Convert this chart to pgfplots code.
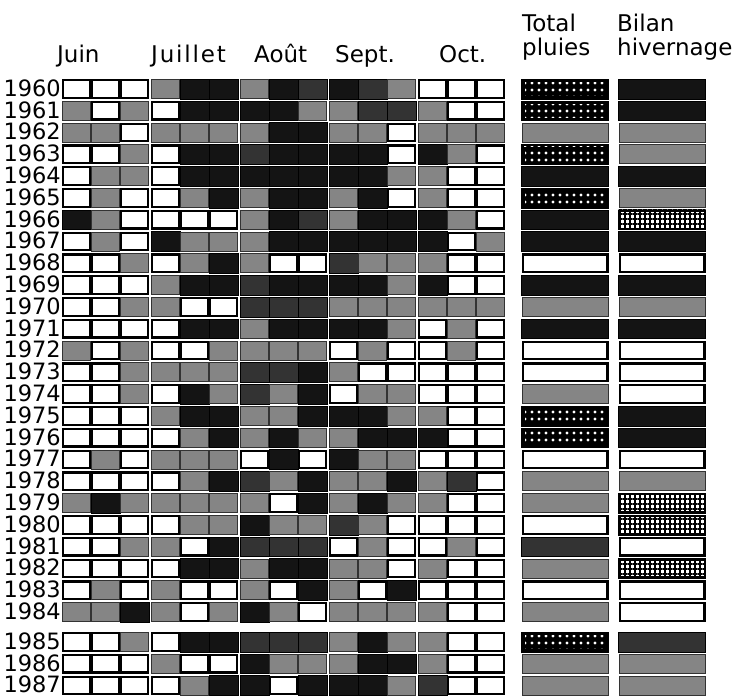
\documentclass[border=0pt]{standalone}
\usepackage{pgfplots}
\pgfplotsset{compat=1.18}
\usepackage{pgfplotstable}
\usepackage{fontspec}
\setmainfont{DejaVu Sans}
\usetikzlibrary{patterns.meta}

\definecolor{lev1}{gray}{0.52}
\definecolor{lev2}{gray}{0.20}
\definecolor{lev3}{gray}{0.08}

\pgfdeclareplotmark{nothing}{}

% level: 0 white, 1 light stipple, 2 dark stipple, 3 black, 4 dots on black, 5 honeycomb
\newcommand\drawcell[3]{%
  \pgfmathtruncatemacro\lv{#1}%
  \ifcase\lv\relax
    \path[fill=white,draw=black,line width=2.2bp] (-#2+1.1bp,-#3+1.1bp) rectangle (#2-1.1bp,#3-1.1bp);
  \or
    \path[fill=lev1,draw=black!80,line width=0.8bp] (-#2+0.4bp,-#3+0.4bp) rectangle (#2-0.4bp,#3-0.4bp);
  \or
    \path[fill=lev2] (-#2,-#3) rectangle (#2,#3);
  \or
    \path[fill=lev3] (-#2,-#3) rectangle (#2,#3);
  \or
    \path[fill=black] (-#2,-#3) rectangle (#2,#3);
    \path[pattern={Dots[distance=7bp,radius=1.6bp]},pattern color=white] (-#2+2.5bp,-#3+2.5bp) rectangle (#2-2.5bp,#3-2.5bp);
  \or
    \path[fill=white] (-#2,-#3) rectangle (#2,#3);
    \path[pattern={Hatch[distance=5bp,line width=1.3bp]},pattern color=black] (-#2,-#3) rectangle (#2,#3);
    \path[draw=black,line width=2bp] (-#2+1bp,-#3+1bp) rectangle (#2-1bp,#3-1bp);
  \fi
}

\pgfplotsset{
  monthcell/.style={only marks, scatter, mark=nothing,
    scatter/@pre marker code/.code={\drawcell{\lvl}{14.3bp}{9.9bp}},
    scatter/@post marker code/.code={}},
  widecell/.style={only marks, scatter, mark=nothing,
    scatter/@pre marker code/.code={\drawcell{\lvl}{43.5bp}{9.9bp}},
    scatter/@post marker code/.code={}},
}

% columns: c1-c3 Juin, c4-c6 Juillet, c7-c9 Aout, c10-c12 Sept, c13-c15 Oct, c16 Total pluies, c17 Bilan hivernage
\pgfplotstableread{
yr   c1 c2 c3 c4 c5 c6 c7 c8 c9 c10 c11 c12 c13 c14 c15 c16 c17
1960 0 0 0 1 3 3 1 3 2 3 2 1 0 0 0 4 3
1961 1 0 1 0 3 3 3 3 1 1 2 2 1 0 0 4 3
1962 1 1 0 1 1 1 1 3 3 1 1 0 1 1 1 1 1
1963 0 0 1 0 3 3 2 3 3 3 3 0 3 1 0 4 1
1964 0 1 1 0 3 3 3 3 3 3 3 1 1 0 0 3 3
1965 0 1 0 0 1 3 1 3 3 1 3 0 1 0 0 4 1
1966 3 1 0 0 0 0 1 3 2 1 3 3 3 1 0 3 5
1967 0 1 0 3 1 1 1 3 3 3 3 3 3 0 1 3 3
1968 0 0 1 0 1 3 1 0 0 2 1 1 1 0 0 0 0
1969 0 0 0 1 3 3 2 3 3 3 3 1 3 0 0 3 3
1970 0 0 1 1 0 0 2 2 2 1 1 1 1 1 1 1 1
1971 0 0 0 0 3 3 1 3 3 3 3 1 0 1 0 3 3
1972 1 0 1 0 0 1 1 1 1 0 1 0 0 1 0 0 0
1973 0 0 1 1 1 1 2 2 3 1 0 0 0 0 0 0 0
1974 0 0 1 0 3 1 2 1 3 0 1 1 0 0 0 1 0
1975 0 0 0 1 3 3 1 1 3 3 3 1 1 0 0 4 3
1976 0 0 0 0 1 3 1 3 1 1 3 3 3 0 0 4 3
1977 0 1 0 1 1 1 0 3 0 3 1 1 0 0 0 0 0
1978 0 0 0 0 1 3 2 1 3 1 1 3 1 2 0 1 1
1979 1 3 1 1 1 1 1 0 3 1 3 1 1 0 0 1 5
1980 0 0 0 0 1 1 3 1 1 2 1 0 0 0 0 0 5
1981 0 0 1 1 0 3 2 2 2 0 1 0 0 1 0 2 0
1982 0 0 0 0 3 3 1 3 3 1 1 0 1 0 0 1 5
1983 0 1 0 1 0 0 1 0 3 1 0 3 0 0 0 0 0
1984 1 1 3 1 0 1 3 1 0 1 1 1 1 0 0 1 0
1985 0 0 1 0 3 3 2 2 2 1 3 1 1 0 0 4 2
1986 0 0 0 1 0 0 3 1 1 1 3 3 1 0 0 1 1
1987 0 0 0 0 1 3 3 0 3 3 3 1 2 0 0 1 1
}\data

\newcommand\rowy{88.9+21.8*(\thisrow{yr}-1960)+8*(\thisrow{yr}>1984)}

\begin{document}
\begin{tikzpicture}
\begin{axis}[
  width=741bp, height=699bp, scale only axis,
  xmin=0, xmax=741, ymin=0, ymax=699, y dir=reverse,
  hide axis, clip=false,
  font=\fontsize{23bp}{27bp}\selectfont,
]
% fix the picture's extent to the full axis area
\path (rel axis cs:0,0) rectangle (rel axis cs:1,1);
% month cells
\pgfplotsinvokeforeach{1,...,15}{
  \addplot[monthcell, visualization depends on={\thisrow{c#1}\as\lvl}]
    table[x expr={62+89*floor((#1-1)/3)+14.5+29*mod(#1-1,3)}, y expr={\rowy}] {\data};
}
% Total pluies
\addplot[widecell, visualization depends on={\thisrow{c16}\as\lvl}]
  table[x expr={565}, y expr={\rowy}] {\data};
% Bilan hivernage
\addplot[widecell, visualization depends on={\thisrow{c17}\as\lvl}]
  table[x expr={662}, y expr={\rowy}] {\data};
% year labels
\addplot[only marks, mark=nothing, point meta=explicit symbolic,
  nodes near coords,
  nodes near coords style={anchor=east, inner sep=0pt, yshift=0.8bp, font=\fontsize{22.5bp}{27bp}\selectfont}]
  table[x expr={61}, y expr={\rowy}, meta=yr] {\data};
% headers
\node[anchor=base west, inner sep=0pt] at (axis cs:57,63) {Juin};
\node[anchor=base west, inner sep=0pt] at (axis cs:151,63) {\addfontfeatures{LetterSpace=8}Juillet};
\node[anchor=base west, inner sep=0pt] at (axis cs:254,63) {Août};
\node[anchor=base west, inner sep=0pt] at (axis cs:335,63) {Sept.};
\node[anchor=base west, inner sep=0pt] at (axis cs:439,63) {Oct.};
\node[anchor=base west, inner sep=0pt] at (axis cs:522,32) {Total};
\node[anchor=base west, inner sep=0pt] at (axis cs:522,56) {pluies};
\node[anchor=base west, inner sep=0pt] at (axis cs:617,32) {Bilan};
\node[anchor=base west, inner sep=0pt] at (axis cs:617,56) {hivernage};
\end{axis}
\end{tikzpicture}
\end{document}
